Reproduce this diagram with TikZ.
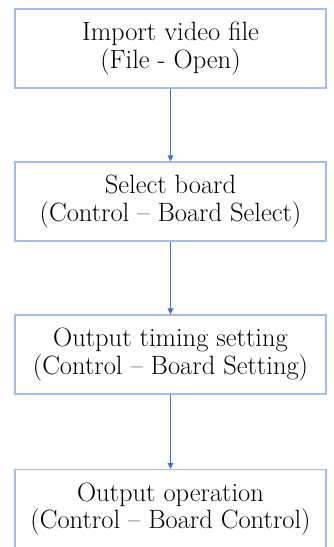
\documentclass[tikz,border=0pt]{standalone}
\usetikzlibrary{arrows.meta}
\definecolor{boxline}{HTML}{A4BCE8}
\definecolor{arrowblue}{HTML}{4472C4}
\begin{document}
\begin{tikzpicture}[x=1pt,y=1pt,
  stepbox/.style={draw=boxline, line width=1.5pt, minimum width=311pt, minimum height=79pt,
    align=center, inner sep=0pt,
    font=\fontsize{26.5}{27.5}\selectfont},
  flow/.style={draw=arrowblue, line width=1pt, -{Triangle[length=6pt,width=6pt]}}]
\useasboundingbox (0,0) rectangle (334,-547);
\clip (0,0) rectangle (334,-547);
\fill[white] (0,0) rectangle (334,-547);
\node[stepbox] (s1) at (170.5,-48.5) {Import video file\\(File - Open)};
\node[stepbox] (s2) at (170.5,-201.5) {Select board\\(Control -- Board Select)};
\node[stepbox] (s3) at (170.5,-354.5) {Output timing setting\\(Control -- Board Setting)};
\node[stepbox] (s4) at (170.5,-509) {Output operation\\(Control -- Board Control)};
\draw[flow] (s1) -- (s2);
\draw[flow] (s2) -- (s3);
\draw[flow] (s3) -- (s4);
\end{tikzpicture}
\end{document}
